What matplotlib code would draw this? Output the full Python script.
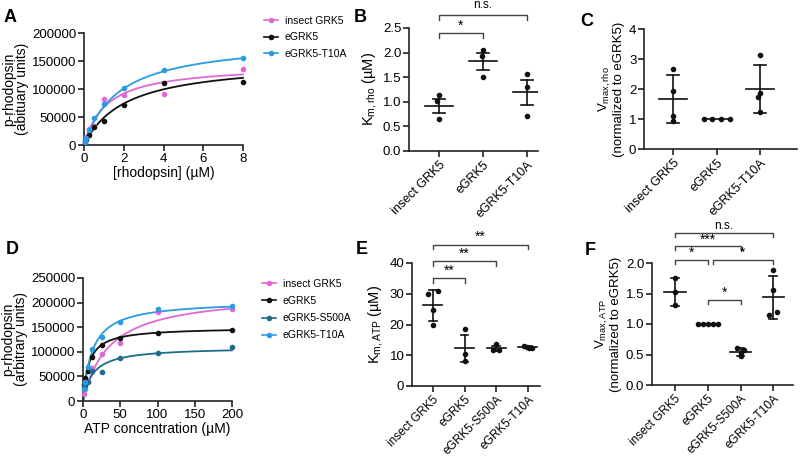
import numpy as np
import matplotlib
matplotlib.use('Agg')
import matplotlib.pyplot as plt
from matplotlib.lines import Line2D

plt.rcParams['font.family'] = ['Liberation Sans', 'DejaVu Sans']
plt.rcParams['mathtext.default'] = 'regular'

pink = '#e068d4'
black = '#111111'
teal = '#1d6c8a'
blue = '#2b9be0'

# panel A: rhodopsin titration
rho_conc = [0.0625, 0.125, 0.25, 0.5, 1, 2, 4, 8]
rho_insect = [8000, 14000, 29000, 34000, 83000, 90000, 91000, 135000]
rho_egrk5 = [6000, 10000, 17000, 32000, 42000, 72000, 110000, 112000]
rho_t10a = [5000, 12000, 27000, 48000, 73000, 101000, 134000, 155000]
# fitted Michaelis-Menten parameters (Vmax, Km)
rho_fit_insect = (143800, 1.13)
rho_fit_egrk5 = (151300, 2.09)
rho_fit_t10a = (188700, 1.74)

# panel D: ATP titration
atp_conc = [1.5625, 3.125, 6.25, 12.5, 25, 50, 100, 200]
atp_insect = [15000, 25000, 40000, 68000, 95000, 117000, 180000, 188000]
atp_egrk5 = [32000, 47000, 60000, 90000, 114000, 128000, 138000, 144000]
atp_s500a = [35000, 30000, 38000, 60000, 59000, 87000, 98000, 109000]
atp_t10a = [25000, 38000, 70000, 106000, 130000, 160000, 188000, 194000]
atp_fit_insect = (220800, 34.9)
atp_fit_egrk5 = (149600, 7.8)
atp_fit_s500a = (109700, 13.1)
atp_fit_t10a = (204000, 12.6)

groups3 = ['insect GRK5', 'eGRK5', 'eGRK5-T10A']
groups4 = ['insect GRK5', 'eGRK5', 'eGRK5-S500A', 'eGRK5-T10A']

# panel B: Km,rho
km_rho = [[1.13, 1.02, 0.66], [2.05, 1.93, 1.50], [1.56, 1.31, 0.71]]
km_rho_mean = [0.92, 1.82, 1.19]
km_rho_err = [0.145, 0.17, 0.255]
# panel C: Vmax,rho
vmax_rho = [[2.68, 1.95, 1.10, 0.95], [1, 1, 1, 1], [3.15, 1.88, 1.75, 1.25]]
vmax_rho_mean = [1.67, 1.0, 1.99]
vmax_rho_err = [0.79, 0.0, 0.80]
# panel E: Km,ATP
km_atp = [[29.8, 30.8, 24.8, 19.8], [18.5, 10.5, 8.2], [13.5, 11.8, 11.6], [13.0, 12.6, 12.5, 12.4]]
km_atp_mean = [26.3, 12.3, 12.2, 12.7]
km_atp_err = [5.0, 4.4, 0.9, 0.3]
# panel F: Vmax,ATP
vmax_atp = [[1.76, 1.53, 1.31], [1, 1, 1, 1, 1], [0.60, 0.58, 0.52, 0.47], [1.88, 1.56, 1.19, 1.14]]
vmax_atp_mean = [1.52, 1.0, 0.54, 1.44]
vmax_atp_err = [0.23, 0.0, 0.07, 0.35]

# horizontal scatter of the dots (category units)
jit_B = [[0.0, -0.05, 0.0], [0.0, -0.03, 0.0], [0.0, 0.0, 0.0]]
jit_C = [[0.0, 0.0, 0.0, 0.0], [-0.3, -0.1, 0.1, 0.3], [0.0, 0.0, -0.05, 0.0]]
jit_E = [[-0.15, 0.15, 0.0, 0.0], [0.0, 0.0, 0.0], [0.0, -0.1, 0.1], [-0.12, -0.04, 0.04, 0.12]]
jit_F = [[0.0, 0.0, 0.0], [-0.3, -0.15, 0.0, 0.15, 0.3], [-0.1, 0.1, 0.0, 0.0], [0.0, 0.0, 0.12, -0.12]]

W, H = 800, 458
fig = plt.figure(figsize=(W / 100, H / 100), dpi=100)


def px_axes(x0, y0, x1, y1):
    ax = fig.add_axes([x0 / W, 1 - y1 / H, (x1 - x0) / W, (y1 - y0) / H])
    for s in ['top', 'right']:
        ax.spines[s].set_visible(False)
    for s in ['left', 'bottom']:
        ax.spines[s].set_linewidth(1.2)
        ax.spines[s].set_color('#222222')
    ax.tick_params(width=1.2, length=4, color='#222222', labelsize=9.5, pad=1.5)
    return ax


def mm(x, p):
    return p[0] * x / (p[1] + x)


def curve_panel(ax, conc, series, fits, colors, xmax):
    xs = np.linspace(0, xmax, 400)
    for y, p, c in zip(series, fits, colors):
        ax.plot(xs, mm(xs, p), color=c, lw=1.3, clip_on=False)
        ax.scatter(conc, y, s=9, color=c, zorder=3, clip_on=False)


def dot_panel(ax, vals, means, errs, jit, labels, hw=0.32, cap=0.13, lfs=9):
    for i, (v, m, e, j) in enumerate(zip(vals, means, errs, jit)):
        xs = [i + d for d in j]
        ax.scatter(xs, v, s=9, color=black, zorder=3, clip_on=False)
        ax.plot([i - hw, i + hw], [m, m], color=black, lw=1.2)
        if e > 0:
            ax.plot([i, i], [m - e, m + e], color=black, lw=1.2)
            ax.plot([i - cap, i + cap], [m + e, m + e], color=black, lw=1.2)
            ax.plot([i - cap, i + cap], [m - e, m - e], color=black, lw=1.2)
    ax.set_xticks(range(len(labels)))
    ax.set_xticklabels(labels, rotation=45, ha='right', rotation_mode='anchor', fontsize=lfs)


def bracket(ax, x0, x1, y, drop, text, ty):
    ax.plot([x0, x0, x1, x1], [y - drop, y, y, y - drop], color='#444444', lw=1.0, clip_on=False)
    fs = 10 if '*' in text else 8.5
    ax.text((x0 + x1) / 2, ty, text, ha='center', va='center', fontsize=fs, clip_on=False)


# ---- A
axA = px_axes(84, 33, 243, 145)
curve_panel(axA, rho_conc, [rho_insect, rho_egrk5, rho_t10a],
            [rho_fit_insect, rho_fit_egrk5, rho_fit_t10a], [pink, black, blue], 8)
axA.set_xlim(0, 8)
axA.set_ylim(0, 200000)
axA.set_xticks([0, 2, 4, 6, 8])
axA.set_yticks([0, 50000, 100000, 150000, 200000])
axA.set_yticklabels(['0', '50000', '100000', '150000', '200000'])
axA.set_xlabel('[rhodopsin] (µM)', fontsize=10, labelpad=1)
axA.set_ylabel('p-rhodopsin\n(abituary units)', fontsize=10, labelpad=2, linespacing=0.95)
hA = [Line2D([], [], color=c, marker='o', ms=3, lw=1.2) for c in [pink, black, blue]]
fig.legend(hA, groups3, loc='upper left', bbox_to_anchor=(264 / W, 1 - 16 / H), frameon=False,
           fontsize=7.5, handlelength=1.3, handletextpad=0.7, labelspacing=0.62,
           borderpad=0, borderaxespad=0)

# ---- B
axB = px_axes(409, 28, 538, 151)
dot_panel(axB, km_rho, km_rho_mean, km_rho_err, jit_B, groups3)
axB.set_xlim(-0.68, 2.25)
axB.set_ylim(0, 2.5)
axB.set_yticks([0, 0.5, 1.0, 1.5, 2.0, 2.5])
axB.set_yticklabels(['0.0', '0.5', '1.0', '1.5', '2.0', '2.5'])
axB.set_ylabel('K$_{m,rho}$ (µM)', fontsize=10.5, labelpad=3)
bracket(axB, 0, 1, 2.40, 0.11, '*', 2.54)
bracket(axB, 0, 2, 2.77, 0.11, 'n.s.', 2.97)

# ---- C
axC = px_axes(644, 29, 797, 149)
dot_panel(axC, vmax_rho, vmax_rho_mean, vmax_rho_err, jit_C, groups3)
axC.set_xlim(-0.67, 2.85)
axC.set_ylim(0, 4)
axC.set_yticks([0, 1, 2, 3, 4])
axC.set_ylabel('V$_{max,rho}$\n(normalized to eGRK5)', fontsize=9.5, labelpad=3, linespacing=1.0)

# ---- D
axD = px_axes(83, 278, 232, 401)
curve_panel(axD, atp_conc, [atp_insect, atp_egrk5, atp_s500a, atp_t10a],
            [atp_fit_insect, atp_fit_egrk5, atp_fit_s500a, atp_fit_t10a],
            [pink, black, teal, blue], 200)
axD.set_xlim(0, 200)
axD.set_ylim(0, 250000)
axD.set_xticks([0, 50, 100, 150, 200])
axD.set_yticks([0, 50000, 100000, 150000, 200000, 250000])
axD.set_yticklabels(['0', '50000', '100000', '150000', '200000', '250000'])
axD.set_xlabel('ATP concentration (µM)', fontsize=10, labelpad=1)
axD.set_ylabel('p-rhodopsin\n(arbitrary units)', fontsize=10, labelpad=2, linespacing=0.95)
hD = [Line2D([], [], color=c, marker='o', ms=3, lw=1.2) for c in [pink, black, teal, blue]]
fig.legend(hD, groups4, loc='upper left', bbox_to_anchor=(262 / W, 1 - 279 / H), frameon=False,
           fontsize=7.5, handlelength=1.3, handletextpad=0.7, labelspacing=0.68,
           borderpad=0, borderaxespad=0)

# ---- E
axE = px_axes(412, 263, 540, 386)
dot_panel(axE, km_atp, km_atp_mean, km_atp_err, jit_E, groups4, hw=0.3, cap=0.12, lfs=8.5)
axE.set_xlim(-0.66, 3.38)
axE.set_ylim(0, 40)
axE.set_yticks([0, 10, 20, 30, 40])
axE.set_ylabel('K$_{m,ATP}$ (µM)', fontsize=10.5, labelpad=3)
bracket(axE, 0, 1, 35.2, 1.6, '**', 37.6)
bracket(axE, 0, 2, 40.6, 1.6, '**', 43.0)
bracket(axE, 0, 3, 46.0, 1.6, '**', 48.4)

# ---- F
axF = px_axes(652, 263, 793, 385)
dot_panel(axF, vmax_atp, vmax_atp_mean, vmax_atp_err, jit_F, groups4, hw=0.33, cap=0.12, lfs=8.5)
axF.set_xlim(-0.7, 3.6)
axF.set_ylim(0, 2.0)
axF.set_yticks([0, 0.5, 1.0, 1.5, 2.0])
axF.set_yticklabels(['0.0', '0.5', '1.0', '1.5', '2.0'])
axF.set_ylabel('V$_{max,ATP}$\n(normalized to eGRK5)', fontsize=9.5, labelpad=3, linespacing=1.0)
bracket(axF, 0, 1, 2.05, 0.07, '*', 2.16)
bracket(axF, 1.15, 3, 2.05, 0.07, '*', 2.16)
bracket(axF, 0, 2, 2.28, 0.07, '***', 2.38)
bracket(axF, 0, 3, 2.49, 0.07, 'n.s.', 2.60)
bracket(axF, 1, 2, 1.40, 0.07, '*', 1.51)

# panel letters
for lab, x, y in [('A', 10, 17), ('B', 360, 17), ('C', 587, 22),
                  ('D', 12, 249), ('E', 362, 249), ('F', 590, 250)]:
    fig.text(x / W, 1 - y / H, lab, fontsize=13, fontweight='bold', ha='center', va='center')

fig.savefig('out.png', dpi=100)
